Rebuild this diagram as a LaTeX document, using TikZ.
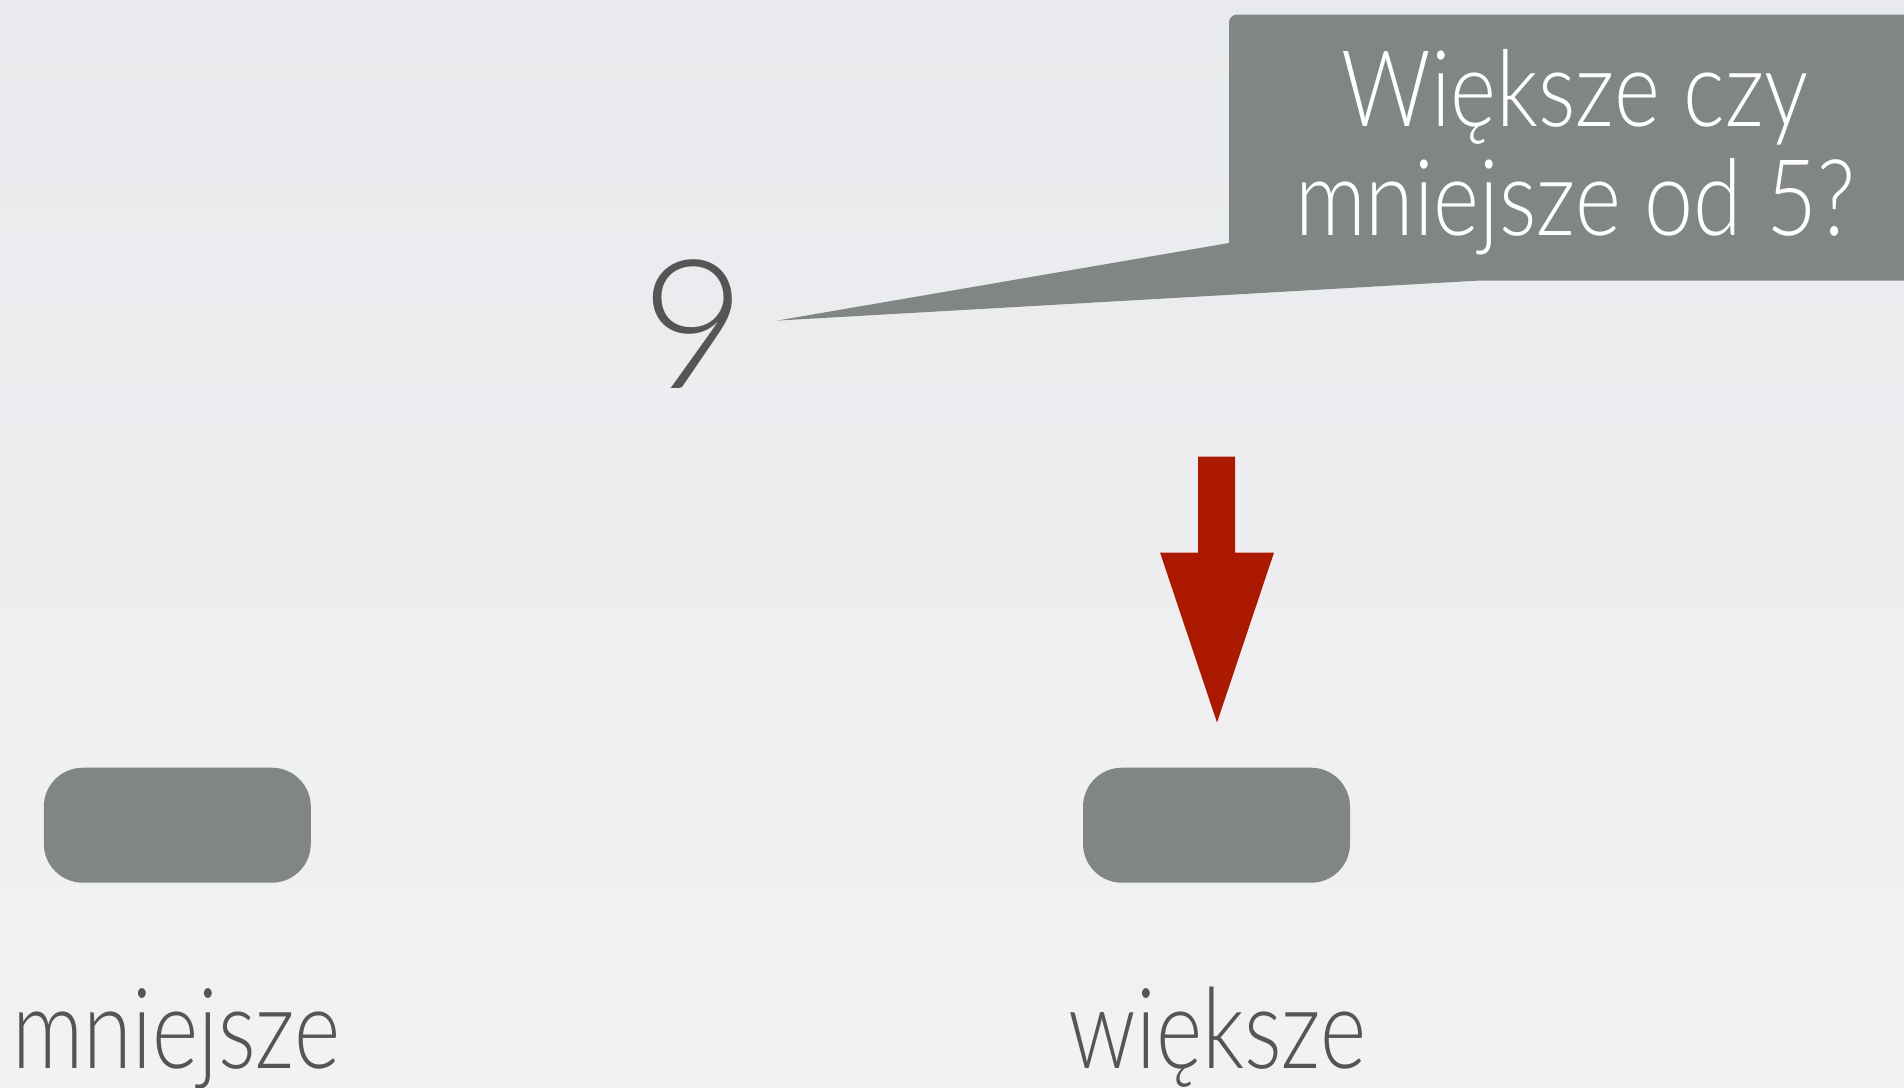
\documentclass[tikz,border=0pt]{standalone}
\usepackage{graphicx}
\usepackage{fontspec}
\setmainfont{Lato}[UprightFont={* Light}]
\definecolor{boxgray}{RGB}{128,134,131}
\definecolor{txtgray}{RGB}{85,85,85}
\definecolor{arrowred}{RGB}{170,25,0}
\definecolor{bgtop}{RGB}{233,234,237}
\definecolor{bgbot}{RGB}{242,242,244}
\newcommand{\narrowtext}[2]{\scalebox{#1}[1]{#2}}
\tikzset{
  pill/.style={fill=boxgray, rounded corners=19.5pt, minimum width=133.5pt, minimum height=57.5pt, inner sep=0pt},
  label/.style={text=txtgray, font=\fontsize{56}{60}\selectfont, anchor=base, inner sep=0pt},
  calltext/.style={text=white, font=\fontsize{53}{54.5}\selectfont, align=center, inner sep=0pt},
}
\begin{document}
\begin{tikzpicture}[x=0.5pt,y=-0.5pt]
\useasboundingbox (0,0) rectangle (1904,1087);
\shade[top color=bgtop, bottom color=bgbot] (0,0) rectangle (1904,1087);
% callout
\coordinate (tip) at (777,320.6);
\fill[boxgray] (1229,243) -- (1229,22.6) arc[start angle=180, end angle=270, radius=8] -- (1904,14.6) -- (1904,280.5) -- (1480,280.5) -- (tip) -- cycle;
\node[calltext, anchor=base] (q) at (1575,235) {\narrowtext{0.83}{Większe czy}\\\narrowtext{0.83}{mniejsze od 5?}};
% number
\node[text=txtgray, font=\fontsize{90}{100}\selectfont, inner sep=0pt, draw=txtgray, draw opacity=0] (nine) at (694,324) {9};
% red arrow
\fill[arrowred] (1198,456.6) -- (1235,456.6) -- (1235,552.5) -- (1274,552.5) -- (1217,722.5) -- (1160,552.5) -- (1198,552.5) -- cycle;
% boxes
\node[pill] (lbox) at (177.3,825.2) {};
\node[pill] (rbox) at (1216.5,825.2) {};
% labels
\node[label] (mn) at (176.5,1068.6) {\narrowtext{0.79}{mniejsze}};
\node[label] (wi) at (1217.5,1068.6) {\narrowtext{0.79}{większe}};
\end{tikzpicture}
\end{document}
